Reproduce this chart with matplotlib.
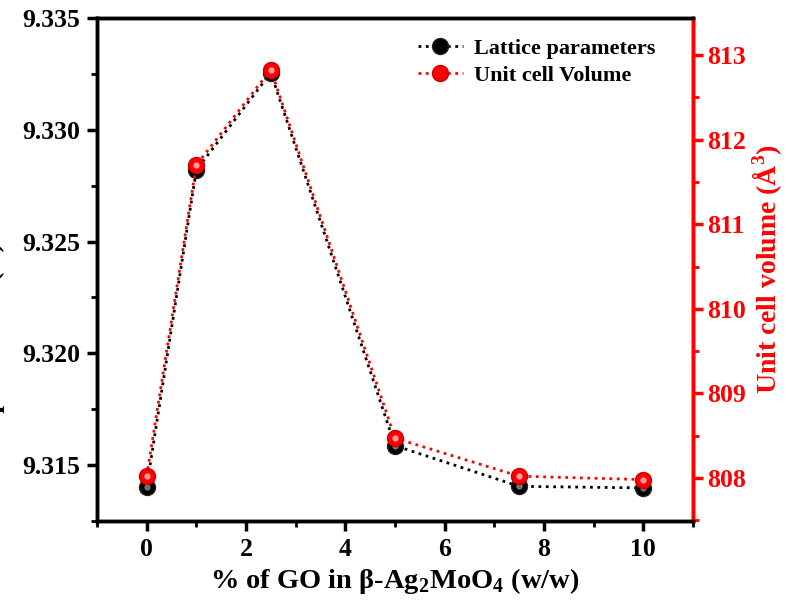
import matplotlib
matplotlib.use('Agg')
import matplotlib.pyplot as plt
from matplotlib.ticker import MultipleLocator

plt.rcParams['font.family'] = ['Liberation Serif', 'DejaVu Serif']
plt.rcParams['font.weight'] = 'bold'
plt.rcParams['mathtext.fontset'] = 'custom'
plt.rcParams['mathtext.rm'] = 'Liberation Serif:bold'
plt.rcParams['mathtext.bf'] = 'Liberation Serif:bold'

# data
go_pct = [0, 1, 2.5, 5, 7.5, 10]
lattice = [9.31402, 9.3282, 9.33255, 9.31587, 9.31405, 9.31398]
volume = [808.02, 811.70, 812.83, 808.47, 808.02, 807.98]

fig = plt.figure(figsize=(7.87, 6.11), dpi=100)
ax = fig.add_axes([97 / 787, 1 - 521 / 611, (693 - 97) / 787, (521 - 18) / 611])
ax2 = ax.twinx()

ax.plot(go_pct, lattice, ':', color='black', lw=2, marker='o', ms=11.5,
        mfc='black', mec='#222222', label='Lattice parameters')
ax2.plot(go_pct, volume, ':', color='red', lw=2, marker='o', ms=11.5,
         mfc='red', mec='#cc0000', label='Unit cell Volume')
# small highlight spots on the balls
ax.plot(go_pct, lattice, 'o', ls='none', ms=3.5, color='#888888', alpha=0.8)
ax2.plot(go_pct, volume, 'o', ls='none', ms=3.5, color='#ffaaaa', alpha=0.9)

ax.set_xlim(-1, 11)
ax.set_ylim(9.3125, 9.335)
ax2.set_ylim(807.49, 813.44)

ax.xaxis.set_major_locator(MultipleLocator(2))
ax.xaxis.set_minor_locator(MultipleLocator(1))
ax.yaxis.set_major_locator(MultipleLocator(0.005))
ax.yaxis.set_minor_locator(MultipleLocator(0.0025))
ax2.yaxis.set_major_locator(MultipleLocator(1))
ax2.yaxis.set_minor_locator(MultipleLocator(0.5))
ax.yaxis.set_major_formatter(plt.FormatStrFormatter('%.3f'))

for a in (ax, ax2):
    for s in a.spines.values():
        s.set_linewidth(2.5)
ax2.spines['right'].set_color('red')

ax.tick_params(which='major', direction='out', length=7, width=2.5,
               labelsize=18.5, pad=5)
ax.tick_params(which='minor', direction='out', length=4, width=2)
ax.tick_params(axis='x', which='both', top=False)
ax2.tick_params(which='major', direction='out', length=7, width=2.5,
                labelsize=18.5, colors='red', pad=3)
ax2.tick_params(which='minor', direction='out', length=4, width=2,
                colors='red')

ax.set_xlabel(r'% of GO in β-Ag$_2$MoO$_4$ (w/w)', fontsize=20.5,
              fontweight='bold', labelpad=4)
ax2.set_ylabel('Unit cell volume (Å$^3$)', fontsize=20, fontweight='bold',
               color='red', labelpad=4)
# left label sits almost fully outside the canvas, as in the reference
ax.set_ylabel('Lattice parameter (Å)', fontsize=20, fontweight='bold')
ax.yaxis.set_label_coords(-0.155, 0.295)

h1, l1 = ax.get_legend_handles_labels()
h2, l2 = ax2.get_legend_handles_labels()
ax2.legend(h1[:1] + h2[:1], l1[:1] + l2[:1], loc='upper right',
           frameon=False, handlelength=2.0, handletextpad=0.5,
           labelspacing=0.3, bbox_to_anchor=(0.97, 1.0),
           prop={'weight': 'bold', 'size': 16})

fig.savefig('out.png', dpi=100)
